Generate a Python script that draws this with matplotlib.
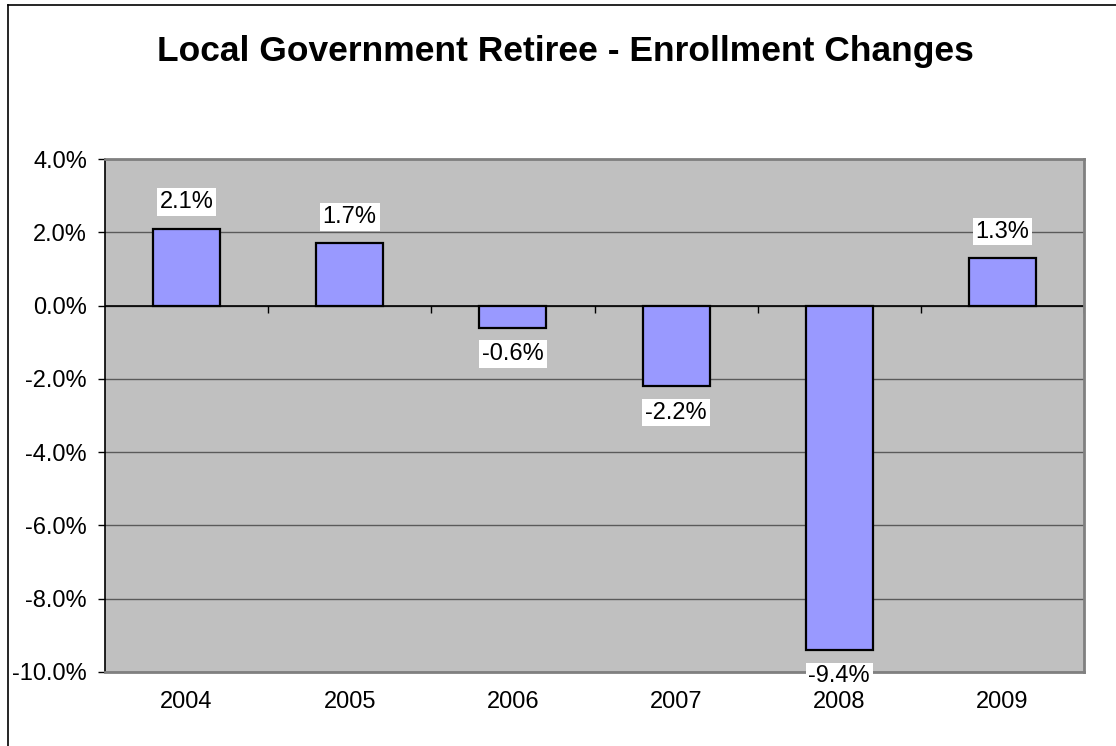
import matplotlib.pyplot as plt
from matplotlib.lines import Line2D

plt.rcParams["font.family"] = ["Liberation Sans", "DejaVu Sans"]

years = ["2004", "2005", "2006", "2007", "2008", "2009"]
changes = [2.1, 1.7, -0.6, -2.2, -9.4, 1.3]
y_ticks = [-10, -8, -6, -4, -2, 0, 2, 4]

fig = plt.figure(figsize=(11.16, 7.46), dpi=100)
ax = fig.add_axes([105/1116, 1 - 672/746, (1084 - 105)/1116, (672 - 159)/746])

ax.set_facecolor("#C0C0C0")
x = range(len(years))
ax.bar(x, changes, width=0.41, color="#9999FF", edgecolor="black", linewidth=1.6, zorder=3)

ax.set_xlim(-0.5, len(years) - 0.5)
ax.set_ylim(-10, 4)
ax.set_yticks(y_ticks)
ax.set_yticklabels(["%.1f%%" % v for v in y_ticks], fontsize=17)
ax.set_xticks(list(x))
ax.set_xticklabels(years, fontsize=17)
ax.tick_params(axis="x", length=0, pad=14)
ax.tick_params(axis="y", direction="out", length=5, width=1, pad=8, color="black")

ax.grid(axis="y", color="#5a5a5a", linewidth=1, zorder=1)
ax.axhline(0, color="black", linewidth=1.2, zorder=2)
# category boundary ticks on the zero line
ax.vlines([i + 0.5 for i in range(len(years))], 0, -0.2, color="black", linewidth=1, zorder=2)

for s in ["top", "right", "bottom"]:
    ax.spines[s].set_color("#808080")
    ax.spines[s].set_linewidth(2)
ax.spines["left"].set_color("black")
ax.spines["left"].set_linewidth(1.2)

for i, v in enumerate(changes):
    off = 19 if v > 0 else -19
    ax.annotate("%.1f%%" % v, (i, v), xytext=(0, off), textcoords="offset points",
                ha="center", va="center", fontsize=17, zorder=5, annotation_clip=False,
                bbox=dict(facecolor="white", edgecolor="none", pad=2))

fig.text(565/1116, 1 - 52/746, "Local Government Retiree - Enrollment Changes",
         ha="center", va="center", fontsize=25.5, fontweight="bold")

# outer chart border
bx, by = 8/1116, 1 - 5/746
fig.add_artist(Line2D([bx, bx], [0, by], color="black", linewidth=1.2))
fig.add_artist(Line2D([bx, 1], [by, by], color="black", linewidth=1.2))

fig.savefig("out.png", dpi=100)
